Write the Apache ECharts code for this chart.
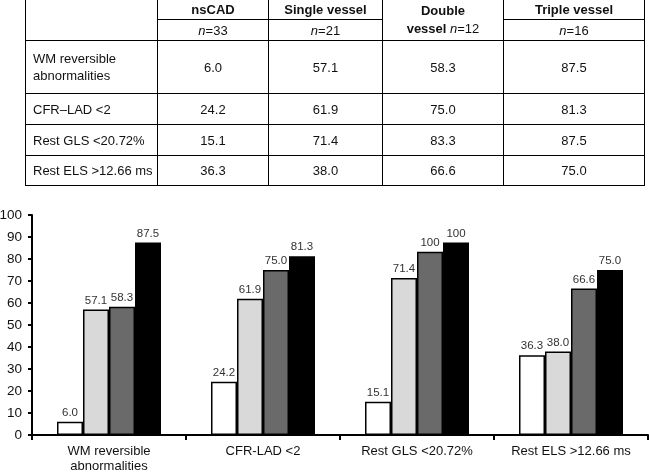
<!DOCTYPE html>
<html>
<head>
<meta charset="utf-8">
<script src="https://cdn.jsdelivr.net/npm/echarts@6/dist/echarts.min.js"></script>
<style>
html, body { margin: 0; padding: 0; background: #fff; }
.wrap { position: relative; width: 649px; height: 473px; overflow: hidden; }
.tbl {
    position: absolute; left: 25px; top: -1px;
    border-collapse: collapse;
    font-family: "Liberation Sans", Arial, sans-serif;
    font-size: 13px; color: #111;
}
.tbl td { border: 1.5px solid #000; padding: 0; text-align: center; }
.tbl td.rl { text-align: left; padding-left: 7px; }
.tbl .hd { font-weight: bold; }
.chart { position: absolute; left: 0; top: 0; width: 649px; height: 473px; }
</style>
</head>
<body>
<div class="wrap">
    <div class="chart" id="chart"></div>
    <table class="tbl" id="tbl"></table>
</div>
<script>
// groups shown in the table header / as bar series
var groups = ['nsCAD', 'Single vessel', 'Double vessel', 'Triple vessel'];
var groupN = [33, 21, 12, 16];
var categories = ['WM reversible\nabnormalities', 'CFR-LAD <2', 'Rest GLS <20.72%', 'Rest ELS >12.66 ms'];
var rowNames = ['WM reversible<br>abnormalities', 'CFR–LAD &lt;2', 'Rest GLS &lt;20.72%', 'Rest ELS &gt;12.66 ms'];

var nsCAD = [6.0, 24.2, 15.1, 36.3];
var single = [57.1, 61.9, 71.4, 38.0];
var double = [58.3, 75.0, 83.3, 66.6];
var triple = [87.5, 81.3, 87.5, 75.0];

// labels printed above bars (the figure prints "100" over two of the GLS bars)
var nsCADLabels = ['6.0', '24.2', '15.1', '36.3'];
var singleLabels = ['57.1', '61.9', '71.4', '38.0'];
var doubleLabels = ['58.3', '75.0', '100', '66.6'];
var tripleLabels = ['87.5', '81.3', '100', '75.0'];

var yTicks = [0, 10, 20, 30, 40, 50, 60, 70, 80, 90, 100];

// ---- table ----
var tbl = document.getElementById('tbl');
var cols = [132, 111, 114, 121, 141];
var html = '<colgroup>';
cols.forEach(function (w) { html += '<col style="width:' + w + 'px">'; });
html += '</colgroup>';
html += '<tr style="height:20px"><td rowspan="2"></td>' +
    '<td class="hd">nsCAD</td><td class="hd">Single vessel</td>' +
    '<td class="hd" rowspan="2" style="line-height:18px">Double<br>vessel <i style="font-weight:normal">n</i><span style="font-weight:normal">=' + groupN[2] + '</span></td>' +
    '<td class="hd">Triple vessel</td></tr>';
html += '<tr style="height:21px"><td><i>n</i>=' + groupN[0] + '</td><td><i>n</i>=' + groupN[1] + '</td><td><i>n</i>=' + groupN[3] + '</td></tr>';
var rowH = [53, 31, 31, 30];
var allVals = [nsCAD, single, double, triple];
for (var r = 0; r < rowNames.length; r++) {
    html += '<tr style="height:' + rowH[r] + 'px"><td class="rl" style="line-height:17px">' + rowNames[r] + '</td>';
    for (var c = 0; c < allVals.length; c++) {
        html += '<td>' + allVals[c][r].toFixed(1) + '</td>';
    }
    html += '</tr>';
}
tbl.innerHTML = html;

// ---- chart ----
var myChart = echarts.init(document.getElementById('chart'));

function barSeries(name, data, labels, color) {
    return {
        name: name,
        type: 'bar',
        barWidth: 26,
        barGap: '0%',
        data: data,
        itemStyle: { color: color, borderColor: '#000', borderWidth: 1.5 },
        label: {
            show: true,
            position: 'top',
            distance: 3,
            fontSize: 11.5,
            color: '#333',
            fontFamily: 'Liberation Sans',
            formatter: function (p) { return labels[p.dataIndex]; }
        }
    };
}

var option = {
    animation: false,
    grid: { left: 32, right: 1, top: 215, bottom: 38, outerBoundsMode: 'none', containLabel: false },
    xAxis: {
        type: 'category',
        data: categories,
        axisLine: { lineStyle: { color: '#000', width: 2 } },
        axisTick: { show: true, length: 5, lineStyle: { color: '#000', width: 2 } },
        axisLabel: {
            color: '#111', fontSize: 13, fontFamily: 'Liberation Sans',
            margin: 9, lineHeight: 15, interval: 0
        }
    },
    yAxis: {
        type: 'value',
        min: yTicks[0],
        max: yTicks[yTicks.length - 1],
        interval: 10,
        splitLine: { show: false },
        axisLine: { show: true, lineStyle: { color: '#000', width: 2 } },
        axisTick: { show: true, length: 4, lineStyle: { color: '#000', width: 2 } },
        axisLabel: { color: '#111', fontSize: 13.5, fontFamily: 'Liberation Sans', margin: 10 }
    },
    series: [
        barSeries(groups[0], nsCAD, nsCADLabels, '#ffffff'),
        barSeries(groups[1], single, singleLabels, '#d9d9d9'),
        barSeries(groups[2], double, doubleLabels, '#6a6a6a'),
        barSeries(groups[3], triple, tripleLabels, '#000000')
    ]
};

myChart.setOption(option);
</script>
</body>
</html>
